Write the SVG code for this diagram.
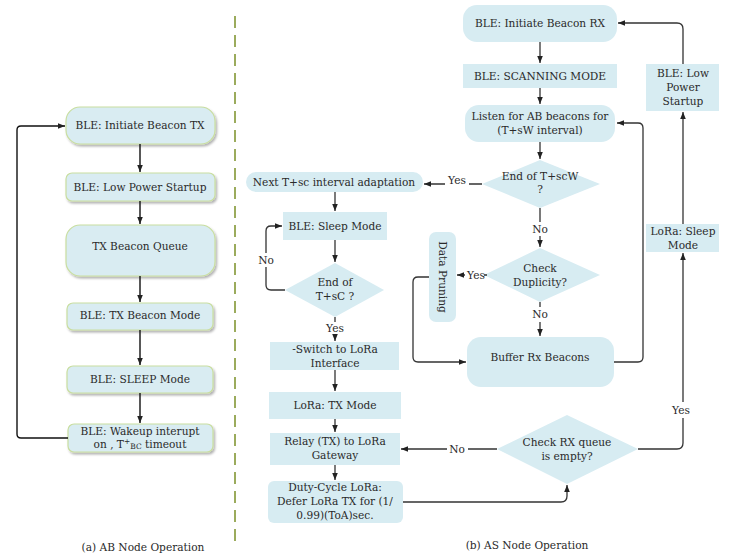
<svg xmlns="http://www.w3.org/2000/svg" width="732" height="559" viewBox="0 0 732 559">
<style>
text{font-family:"DejaVu Serif","Liberation Serif",serif;font-size:10.6px;fill:#2a2a2a;text-anchor:middle}
.ab{fill:#d9ecf2;stroke:#c9dea0;stroke-width:1.2;filter:url(#sh)}
.as{fill:#d7ecf2;stroke:none}
.c{fill:none;stroke:#333;stroke-width:1.3}
.k{fill:none;stroke:#111;stroke-width:1.4}
</style>
<defs>
<marker id="a" viewBox="0 0 10 10" refX="10" refY="5" markerWidth="7" markerHeight="7" orient="auto" markerUnits="userSpaceOnUse">
<path d="M0,1 L10,5 L0,9 z" fill="#222"/>
</marker>
<filter id="sh" x="-10%" y="-20%" width="125%" height="150%">
<feDropShadow dx="1.5" dy="2" stdDeviation="1.2" flood-color="#000" flood-opacity="0.3"/>
</filter>
</defs>

<line x1="235" y1="16" x2="235" y2="548" stroke="#9bab5c" stroke-width="2" stroke-dasharray="12,7"/>

<g id="ab-initiate"><rect class="ab" x="66" y="107" width="149" height="37" rx="14"/><text x="140" y="129">BLE: Initiate Beacon TX</text></g>
<g id="ab-lowpower"><rect class="ab" x="66" y="173" width="149" height="28" rx="6"/><text x="140" y="191">BLE: Low Power Startup</text></g>
<g id="ab-queue"><rect class="ab" x="66" y="225" width="149" height="51" rx="14"/><text x="140" y="250">TX Beacon Queue</text></g>
<g id="ab-txmode"><rect class="ab" x="67" y="303" width="146" height="27" rx="6"/><text x="140" y="319">BLE: TX Beacon Mode</text></g>
<g id="ab-sleep"><rect class="ab" x="67" y="366" width="146" height="27" rx="6"/><text x="140" y="383">BLE: SLEEP Mode</text></g>
<g id="ab-wakeup"><rect class="ab" x="68" y="424" width="145" height="28" rx="6"/><text x="140" y="435">BLE: Wakeup interupt</text><text x="140" y="448">on , T<tspan font-size="7.5" dy="-4">+</tspan><tspan font-size="7.5" dy="5">BC</tspan><tspan dy="-1"> timeout</tspan></text></g>
<text x="143" y="551">(a) AB Node Operation</text>

<g id="as-initrx"><rect class="as" x="463" y="5" width="154" height="37" rx="14"/><text x="540" y="27">BLE: Initiate Beacon RX</text></g>
<g id="as-scan"><rect class="as" x="463" y="64" width="154" height="24"/><text x="540" y="80">BLE: SCANNING MODE</text></g>
<g id="as-listen"><rect class="as" x="465" y="105" width="150" height="37" rx="14"/><text x="540" y="120">Listen for AB beacons for</text><text x="540" y="134">(T+sW  interval)</text></g>
<g id="as-endscw"><polygon class="as" points="540,160 600,184 540,208 482,184"/><text x="540" y="180">End of T+scW</text><text x="540" y="193">?</text></g>
<g id="as-dup"><polygon class="as" points="540,248 600,275 540,302 484,275"/><text x="540" y="272">Check</text><text x="540" y="286">Duplicity?</text></g>
<g id="as-prune"><rect class="as" x="429" y="232" width="27" height="90" rx="7"/><text x="0" y="0" transform="translate(439,277) rotate(90)">Data Pruning</text></g>
<g id="as-buffer"><rect class="as" x="467" y="337" width="147" height="50" rx="14"/><text x="540" y="361">Buffer Rx Beacons</text></g>
<g id="as-lowpower"><rect class="as" x="646" y="64" width="73" height="47"/><text x="683" y="77">BLE: Low</text><text x="683" y="91">Power</text><text x="683" y="105">Startup</text></g>
<g id="as-lorasleep"><rect class="as" x="646" y="224" width="73" height="28"/><text x="683" y="235">LoRa: Sleep</text><text x="683" y="249">Mode</text></g>
<g id="as-rxqueue"><polygon class="as" points="567,415 638,449 567,484 497,449"/><text x="567" y="446">Check RX queue</text><text x="567" y="460">is empty?</text></g>
<g id="as-next"><rect class="as" x="246" y="172" width="177" height="20" rx="10"/><text x="334" y="186">Next T+sc  interval adaptation</text></g>
<g id="as-blesleep"><rect class="as" x="283" y="212" width="104" height="28"/><text x="335" y="230">BLE: Sleep Mode</text></g>
<g id="as-endsc"><polygon class="as" points="335,263 384,290 335,317 285,290"/><text x="335" y="286">End of</text><text x="335" y="300">T+sC ?</text></g>
<g id="as-switch"><rect class="as" x="270" y="342" width="129" height="28"/><text x="335" y="353">-Switch to LoRa</text><text x="335" y="367">Interface</text></g>
<g id="as-loratx"><rect class="as" x="269" y="392" width="132" height="27"/><text x="335" y="409">LoRa: TX Mode</text></g>
<g id="as-relay"><rect class="as" x="270" y="433" width="130" height="32"/><text x="335" y="445">Relay (TX) to LoRa</text><text x="335" y="459">Gateway</text></g>
<g id="as-duty"><rect class="as" x="268" y="481" width="135" height="42" rx="6"/><text x="335" y="491">Duty-Cycle LoRa:</text><text x="335" y="505">Defer LoRa TX for (1/</text><text x="335" y="519">0.99)(ToA)sec.</text></g>
<text x="527" y="549">(b) AS Node Operation</text>

<g id="connectors">
<path class="k" d="M140,144 V172" marker-end="url(#a)"/>
<path class="k" d="M140,201 V224" marker-end="url(#a)"/>
<path class="k" d="M140,276 V302" marker-end="url(#a)"/>
<path class="k" d="M140,330 V365" marker-end="url(#a)"/>
<path class="k" d="M140,393 V423" marker-end="url(#a)"/>
<path class="k" d="M68,438 H21 Q17,438 17,434 V130 Q17,126 21,126 H65" marker-end="url(#a)"/>

<path class="c" d="M540,42 V63" marker-end="url(#a)"/>
<path class="c" d="M540,88 V104" marker-end="url(#a)"/>
<path class="c" d="M540,142 V159" marker-end="url(#a)"/>
<path class="c" d="M482,184 H469 M445,184 H424" marker-end="url(#a)"/>
<text x="457" y="184">Yes</text>
<path class="c" d="M540,208 V222 M540,236 V247" marker-end="url(#a)"/>
<text x="540" y="233">No</text>
<path class="c" d="M484,275 H487 M465,275 H457" marker-end="url(#a)"/>
<text x="476" y="279">Yes</text>
<path class="c" d="M540,302 V307 M540,322 V336" marker-end="url(#a)"/>
<text x="540" y="318">No</text>
<path class="c" d="M429,277 H418 Q413,277 413,282 V357 Q413,362 418,362 H466" marker-end="url(#a)"/>
<path class="c" d="M614,362 H638 Q643,362 643,357 V128 Q643,123 638,123 H617" marker-end="url(#a)"/>
<path class="c" d="M683,64 V29 Q683,23 677,23 H618" marker-end="url(#a)"/>
<path class="c" d="M683,224 V112" marker-end="url(#a)"/>
<path class="c" d="M638,449 H677 Q683,449 683,443 V418 M683,402 V253" marker-end="url(#a)"/>
<text x="681" y="414">Yes</text>
<path class="c" d="M497,449 H468 M447,449 H401" marker-end="url(#a)"/>
<text x="457" y="453">No</text>
<path class="c" d="M403,502 H561 Q567,502 567,496 V485" marker-end="url(#a)"/>

<path class="c" d="M335,192 V211" marker-end="url(#a)"/>
<path class="c" d="M335,240 V262" marker-end="url(#a)"/>
<path class="c" d="M285,290 H271 Q266,290 266,285 V267 M266,253 V231 Q266,226 271,226 H282" marker-end="url(#a)"/>
<text x="266" y="264">No</text>
<path class="c" d="M335,317 V322 M335,336 V341" marker-end="url(#a)"/>
<text x="335" y="332">Yes</text>
<path class="c" d="M335,370 V391" marker-end="url(#a)"/>
<path class="c" d="M335,419 V432" marker-end="url(#a)"/>
<path class="c" d="M335,465 V480" marker-end="url(#a)"/>
</g>
</svg>
